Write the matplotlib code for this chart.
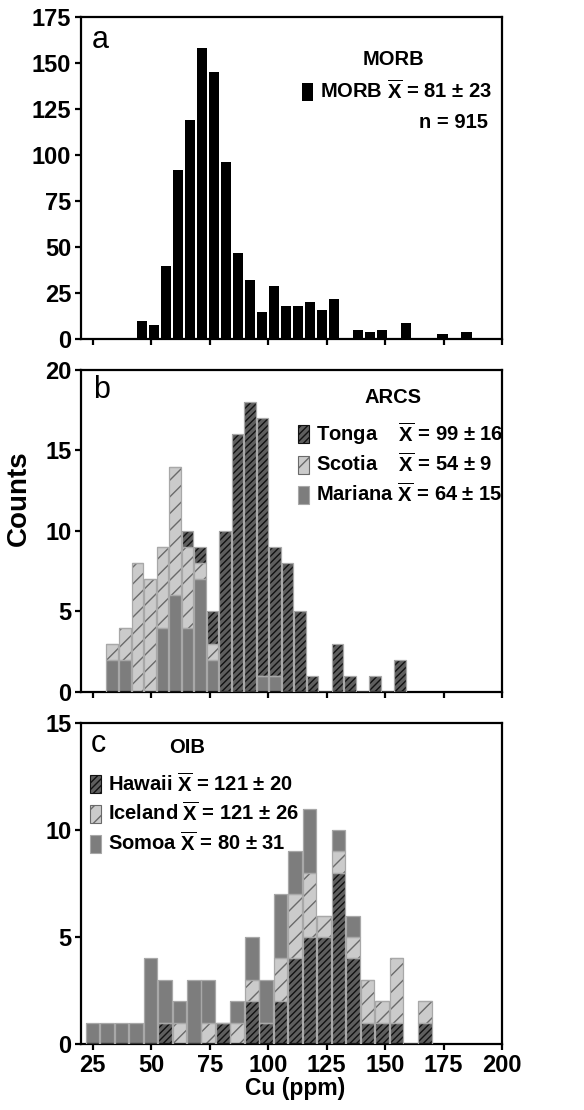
import matplotlib
matplotlib.use("Agg")
import matplotlib.pyplot as plt
from matplotlib.patches import Patch

plt.rcParams['font.family'] = ['Liberation Sans', 'DejaVu Sans']
plt.rcParams['font.weight'] = 'bold'
plt.rcParams['mathtext.fontset'] = 'custom'
plt.rcParams['mathtext.rm'] = 'Liberation Sans:bold'
plt.rcParams['mathtext.bf'] = 'Liberation Sans:bold'
plt.rcParams['mathtext.it'] = 'Liberation Sans:bold'
plt.rcParams['hatch.linewidth'] = 1.0

# ---------------- data ----------------
# Panel a: MORB
morb_cu = [46.0, 51.1, 56.3, 61.4, 66.6, 71.7, 76.8, 82.0, 87.1, 92.3, 97.4, 102.5,
           107.7, 112.8, 118.0, 123.1, 128.2, 138.5, 143.7, 148.8, 159.1, 174.5, 184.8]
morb_counts = [10, 8, 40, 92, 119, 158, 145, 96, 47, 32, 15, 29,
               18, 18, 20, 16, 22, 5, 4, 5, 9, 3, 4]

# Panel b: ARCS
arcs_cu = [33.4, 38.7, 44.1, 49.4, 54.8, 60.1, 65.5, 70.8, 76.2, 81.5, 86.9, 92.2,
           97.6, 102.9, 108.3, 113.6, 119.0, 124.3, 129.7, 135.0, 140.4, 145.7, 151.1, 156.4]
mariana = [2, 2, 0, 0, 4, 6, 4, 7, 2, 0, 0, 0, 1, 1, 0, 0, 0, 0, 0, 0, 0, 0, 0, 0]
scotia = [1, 2, 8, 7, 5, 8, 5, 1, 1, 0, 0, 0, 0, 0, 0, 0, 0, 0, 0, 0, 0, 0, 0, 0]
tonga = [0, 0, 0, 0, 0, 0, 1, 1, 2, 10, 16, 18, 16, 8, 8, 5, 1, 0, 3, 1, 0, 1, 0, 2]

# Panel c: OIB
oib_cu = [25.0, 31.2, 37.4, 43.5, 49.7, 55.9, 62.1, 68.3, 74.4, 80.6, 86.8, 93.0,
          99.2, 105.3, 111.5, 117.7, 123.9, 130.1, 136.2, 142.4, 148.6, 154.8, 161.0, 167.1]
hawaii = [0, 0, 0, 0, 0, 1, 0, 0, 0, 1, 0, 2, 1, 2, 4, 5, 5, 8, 4, 1, 1, 1, 0, 1]
iceland = [0, 0, 0, 0, 0, 0, 1, 0, 1, 0, 1, 1, 0, 2, 3, 3, 1, 1, 1, 2, 1, 3, 0, 1]
somoa = [1, 1, 1, 1, 4, 2, 1, 3, 2, 0, 1, 2, 2, 3, 2, 3, 0, 1, 1, 0, 0, 0, 0, 0]

x_ticks = [25, 50, 75, 100, 125, 150, 175, 200]

XBAR = r"$\overline{\mathbf{X}}$"

# ---------------- styles ----------------
DARK_FACE, DARK_HATCH = '#5e5e5e', '#111111'
LIGHT_FACE, LIGHT_HATCH = '#cbcbcb', '#6a6a6a'
MID_FACE = '#7d7d7d'
OUTLINE = '#a8a8a8'
LEG_FS = 14.5

fig = plt.figure(figsize=(5.84, 11.10), dpi=100)
L, W = 0.1387, 0.7209
ax_a = fig.add_axes([L, 0.6943, W, 0.2906])
ax_b = fig.add_axes([L, 0.3766, W, 0.2901])
ax_c = fig.add_axes([L, 0.0595, W, 0.2892])


def style_axis(ax, ymax, ystep, show_xlabels):
    ax.set_xlim(20, 200)
    ax.set_ylim(0, ymax)
    ax.set_xticks(x_ticks)
    ax.set_yticks(list(range(0, ymax + 1, ystep)))
    for s in ax.spines.values():
        s.set_linewidth(1.6)
    ax.tick_params(direction='out', length=4.5, width=1.6, labelsize=17, pad=2.5)
    if not show_xlabels:
        ax.tick_params(axis='x', labelbottom=False)


def stacked(ax, x, series, width):
    bottom = [0] * len(x)
    for vals, face, hatch, hcol in series:
        ax.bar(x, vals, width=width, bottom=bottom, color=face, hatch=hatch,
               edgecolor=hcol, linewidth=0, zorder=2)
        ax.bar(x, vals, width=width, bottom=bottom, fill=False,
               edgecolor=OUTLINE, linewidth=0.9, zorder=3)
        bottom = [b + v for b, v in zip(bottom, vals)]


# ---- panel a ----
ax_a.bar(morb_cu, morb_counts, width=4.4, color='black', linewidth=0, zorder=2)
style_axis(ax_a, 175, 25, False)
ax_a.text(0.026, 0.902, 'a', transform=ax_a.transAxes, fontsize=22,
          fontweight='normal', ha='left', va='baseline')
ax_a.text(0.741, 0.852, 'MORB', transform=ax_a.transAxes, fontsize=LEG_FS,
          ha='center', va='baseline')
ax_a.text(0.967, 0.656, 'n = 915', transform=ax_a.transAxes, fontsize=LEG_FS,
          ha='right', va='baseline')
ax_a.legend(handles=[Patch(facecolor='black', edgecolor='black', linewidth=0)],
            labels=['MORB ' + XBAR + ' = 81 ± 23'],
            loc='center left', bbox_to_anchor=(0.525, 0.769), frameon=False,
            fontsize=LEG_FS, handlelength=0.55, handleheight=1.0, handletextpad=0.35,
            borderpad=0, borderaxespad=0)

# ---- panel b ----
stacked(ax_b, arcs_cu, [(mariana, MID_FACE, None, MID_FACE),
                        (scotia, LIGHT_FACE, '//', LIGHT_HATCH),
                        (tonga, DARK_FACE, '/////', DARK_HATCH)], 5.0)
style_axis(ax_b, 20, 5, False)
ax_b.text(0.028, 0.912, 'b', transform=ax_b.transAxes, fontsize=22,
          fontweight='normal', ha='left', va='baseline')
ax_b.text(0.741, 0.898, 'ARCS', transform=ax_b.transAxes, fontsize=LEG_FS,
          ha='center', va='baseline')
hb = [Patch(facecolor=DARK_FACE, hatch='/////', edgecolor=DARK_HATCH, linewidth=0.8),
      Patch(facecolor=LIGHT_FACE, hatch='//', edgecolor=LIGHT_HATCH, linewidth=0.8),
      Patch(facecolor=MID_FACE, edgecolor=OUTLINE, linewidth=0.8)]
ax_b.legend(handles=hb,
            labels=['Tonga    ' + XBAR + ' = 99 ± 16',
                    'Scotia    ' + XBAR + ' = 54 ± 9',
                    'Mariana ' + XBAR + ' = 64 ± 15'],
            loc='center left', bbox_to_anchor=(0.515, 0.712), frameon=False,
            fontsize=LEG_FS, handlelength=0.55, handleheight=1.0, handletextpad=0.35,
            labelspacing=0.3, borderpad=0, borderaxespad=0)

# ---- panel c ----
stacked(ax_c, oib_cu, [(hawaii, DARK_FACE, '/////', DARK_HATCH),
                       (iceland, LIGHT_FACE, '//', LIGHT_HATCH),
                       (somoa, MID_FACE, None, MID_FACE)], 5.8)
style_axis(ax_c, 15, 5, True)
ax_c.text(0.023, 0.911, 'c', transform=ax_c.transAxes, fontsize=22,
          fontweight='normal', ha='left', va='baseline')
ax_c.text(0.251, 0.906, 'OIB', transform=ax_c.transAxes, fontsize=LEG_FS,
          ha='center', va='baseline')
hc = [Patch(facecolor=DARK_FACE, hatch='/////', edgecolor=DARK_HATCH, linewidth=0.8),
      Patch(facecolor=LIGHT_FACE, hatch='//', edgecolor=LIGHT_HATCH, linewidth=0.8),
      Patch(facecolor=MID_FACE, edgecolor=OUTLINE, linewidth=0.8)]
ax_c.legend(handles=hc,
            labels=['Hawaii ' + XBAR + ' = 121 ± 20',
                    'Iceland ' + XBAR + ' = 121 ± 26',
                    'Somoa ' + XBAR + ' = 80 ± 31'],
            loc='center left', bbox_to_anchor=(0.021, 0.719), frameon=False,
            fontsize=LEG_FS, handlelength=0.55, handleheight=1.0, handletextpad=0.35,
            labelspacing=0.3, borderpad=0, borderaxespad=0)

fig.text(19 / 584, 0.551, 'Counts', rotation=90, ha='center', va='center', fontsize=20)
fig.text(0.505, 0.019, 'Cu (ppm)', ha='center', va='center', fontsize=16.5)

fig.savefig('out.png', dpi=100)
